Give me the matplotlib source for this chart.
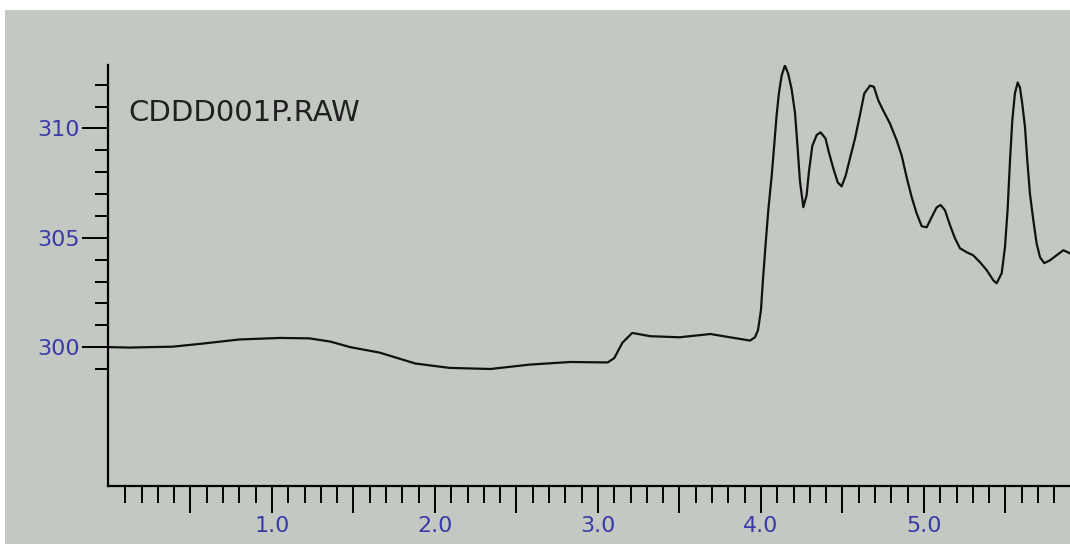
import matplotlib
matplotlib.use("Agg")
import matplotlib.pyplot as plt
from matplotlib.patches import Rectangle
from matplotlib.ticker import FixedLocator, NullFormatter

# ---- data (retention time, signal) ----
time = [0.00, 0.13, 0.25, 0.39, 0.56, 0.80, 1.05, 1.23, 1.36, 1.48, 1.66, 1.88,
        2.09, 2.34, 2.58, 2.83, 3.06, 3.10, 3.15, 3.21, 3.32, 3.50, 3.69, 3.81,
        3.933, 3.963, 3.982, 4.000, 4.012, 4.028, 4.045, 4.066, 4.082, 4.096,
        4.110, 4.127, 4.147, 4.167, 4.188, 4.209, 4.225, 4.239, 4.260, 4.280,
        4.294, 4.315, 4.342, 4.366, 4.396, 4.417, 4.444, 4.471, 4.495, 4.520,
        4.546, 4.577, 4.607, 4.634, 4.669, 4.693, 4.720, 4.750, 4.791, 4.833,
        4.863, 4.894, 4.925, 4.955, 4.986, 5.017, 5.047, 5.078, 5.102, 5.129,
        5.160, 5.190, 5.221, 5.262, 5.302, 5.344, 5.385, 5.425, 5.446, 5.477,
        5.497, 5.513, 5.528, 5.542, 5.558, 5.575, 5.589, 5.603, 5.620, 5.634,
        5.650, 5.671, 5.691, 5.712, 5.738, 5.773, 5.814, 5.855, 5.896]
signal = [300.00, 299.98, 300.00, 300.02, 300.15, 300.35, 300.42, 300.40, 300.25,
          300.00, 299.75, 299.25, 299.05, 299.00, 299.20, 299.32, 299.30, 299.50,
          300.20, 300.65, 300.50, 300.45, 300.60, 300.45,
          300.30, 300.45, 300.78, 301.70, 303.06, 304.66, 306.26, 307.85, 309.30,
          310.60, 311.60, 312.42, 312.88, 312.50, 311.80, 310.70, 309.10, 307.60,
          306.40, 306.94, 308.00, 309.20, 309.70, 309.82, 309.54, 308.90, 308.17,
          307.53, 307.35, 307.85, 308.63, 309.54, 310.60, 311.60, 311.96, 311.90,
          311.28, 310.82, 310.23, 309.45, 308.77, 307.76, 306.85, 306.12, 305.53,
          305.48, 305.94, 306.39, 306.50, 306.26, 305.57, 304.98, 304.52, 304.34,
          304.20, 303.88, 303.52, 303.06, 302.92, 303.38, 304.57, 306.26, 308.54,
          310.37, 311.60, 312.10, 311.87, 311.14, 310.05, 308.54, 307.03, 305.80,
          304.75, 304.11, 303.84, 303.97, 304.20, 304.43, 304.29]

y_major = [300, 305, 310]
y_major_labels = ["300", "305", "310"]
y_minor = [299, 301, 302, 303, 304, 306, 307, 308, 309, 311, 312, 313]
x_major = [0.5, 1.0, 1.5, 2.0, 2.5, 3.0, 3.5, 4.0, 4.5, 5.0, 5.5]
x_major_labels = ["", "1.0", "", "2.0", "", "3.0", "", "4.0", "", "5.0", ""]
x_minor = [round(0.1 * i, 1) for i in range(1, 60) if i % 5 != 0]
file_label = "CDDD001P.RAW"

W, H = 1070, 544
BG = "#c3c9c2"
BLUE = "#3a3aa8"

fig = plt.figure(figsize=(W / 100, H / 100), dpi=100)
fig.patch.set_facecolor("white")
fig.patches.append(Rectangle((5 / W, 0), 1 - 5 / W, 1 - 10 / H,
                             transform=fig.transFigure, facecolor=BG,
                             edgecolor="none", zorder=-10))

ax = fig.add_axes([108 / W, 1 - 486 / H, 1 - 108 / W, (486 - 65) / H])
ax.set_zorder(5)
ax.set_facecolor("none")
ax.plot(time, signal, color="#111111", lw=1.6, solid_joinstyle="round")

ax.set_xlim(-0.006, 5.896)
ax.set_ylim(293.65, 312.9)

for s in ["top", "right"]:
    ax.spines[s].set_visible(False)
for s in ["left", "bottom"]:
    ax.spines[s].set_linewidth(1.6)
    ax.spines[s].set_color("black")

ax.yaxis.set_major_locator(FixedLocator(y_major))
ax.set_yticklabels(y_major_labels)
ax.yaxis.set_minor_locator(FixedLocator(y_minor))
ax.xaxis.set_major_locator(FixedLocator(x_major))
ax.set_xticklabels(x_major_labels)
ax.xaxis.set_minor_locator(FixedLocator(x_minor))
ax.xaxis.set_minor_formatter(NullFormatter())

ax.tick_params(axis="y", which="major", direction="out", length=19, width=1.4,
               pad=1, labelsize=16, labelcolor=BLUE, color="black")
ax.tick_params(axis="y", which="minor", direction="out", length=9.5, width=1.4,
               color="black")
ax.tick_params(axis="x", which="major", direction="out", length=19.5, width=1.4,
               pad=2, labelsize=16, labelcolor=BLUE, color="black")
ax.tick_params(axis="x", which="minor", direction="out", length=12, width=1.4,
               color="black")
for lab in ax.get_xticklabels() + ax.get_yticklabels():
    lab.set_family("DejaVu Sans")

fig.text(128 / W, 1 - 121 / H, file_label, ha="left", va="baseline",
         fontsize=21, color="#202020", family="DejaVu Sans", zorder=6)

fig.savefig("out.png", dpi=100, facecolor="white")
